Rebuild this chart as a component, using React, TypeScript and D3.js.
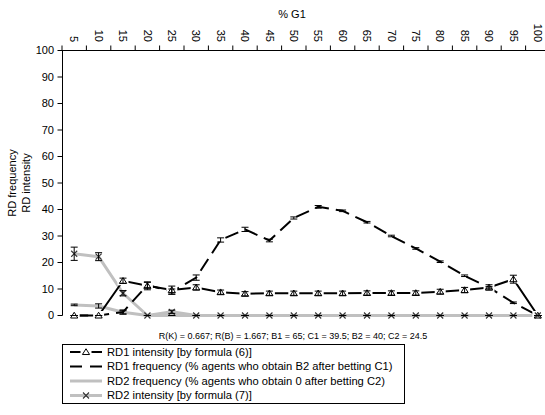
import React from "react";
import * as d3 from "d3";

const categories = [5, 10, 15, 20, 25, 30, 35, 40, 45, 50, 55, 60, 65, 70, 75, 80, 85, 90, 95, 100];
const yTicks = [0, 10, 20, 30, 40, 50, 60, 70, 80, 90, 100];

const rd1Intensity = [0, 0, 13.1, 11.2, 9.6, 10.6, 8.8, 8.2, 8.4, 8.4, 8.4, 8.4, 8.5, 8.5, 8.5, 9.0, 9.6, 10.6, 13.7, 0];
const rd1IntensityErr = [0, 0, 1.0, 1.5, 1.5, 1.0, 0.8, 0.8, 0.8, 0.8, 0.8, 0.8, 0.8, 0.8, 0.8, 0.9, 1.0, 1.0, 1.5, 0];
const rd1Freq = [0, 0, 1.3, 11.5, 9.0, 14.3, 28.5, 32.5, 28.3, 36.8, 41.0, 39.5, 35.2, 30.0, 25.3, 20.3, 15.0, 10.6, 4.8, 0];
const rd1FreqErr = [0, 0, 0.8, 1.0, 1.0, 1.0, 0.8, 0.8, 0.5, 0.4, 0.5, 0.3, 0.3, 0.3, 0.3, 0.3, 0.3, 0.3, 0.3, 0];
const rd2Freq = [4.0, 3.6, 1.2, 0, 0, 0, 0, 0, 0, 0, 0, 0, 0, 0, 0, 0, 0, 0, 0, 0];
const rd2FreqErr = [0.3, 0.8, 0.6, 0, 0, 0, 0, 0, 0, 0, 0, 0, 0, 0, 0, 0, 0, 0, 0, 0];
const rd2Intensity = [23.3, 22.2, 8.4, 0, 1.4, 0, 0, 0, 0, 0, 0, 0, 0, 0, 0, 0, 0, 0, 0, 0];
const rd2IntensityErr = [2.5, 1.5, 1.0, 0, 0.6, 0, 0, 0, 0, 0, 0, 0, 0, 0, 0, 0, 0, 0, 0, 0];

const legendLabels = [
  "RD1 intensity [by formula (6)]",
  "RD1 frequency (% agents who obtain B2 after betting C1)",
  "RD2 frequency (% agents who obtain 0 after betting C2)",
  "RD2 intensity [by formula (7)]",
];
const subtitle = "R(K) = 0.667; R(B) = 1.667; B1 = 65; C1 = 39.5; B2 = 40; C2 = 24.5";
const xTitle = "% G1";
const yTitle1 = "RD frequency";
const yTitle2 = "RD intensity";

const FONT = "'Liberation Sans', Arial, sans-serif";
const GRAY = "#c0c0c0";

export default function App() {
  const W = 545, H = 415;
  const x = d3.scaleBand<number>().domain(categories).range([62, 550]).paddingInner(0).paddingOuter(0);
  const y = d3.scaleLinear().domain([0, 100]).range([315.5, 50.5]);
  const cx = (c: number) => (x(c) as number) + x.bandwidth() / 2;
  const line = (vals: number[]) =>
    d3.line<number>().x((_, i) => cx(categories[i])).y((v) => y(v))(vals) as string;

  const tri = (px: number, py: number, s: number) =>
    `M${px},${py - s * 0.9}L${px + s},${py + s * 0.7}L${px - s},${py + s * 0.7}Z`;

  const errBars = (vals: number[], errs: number[], key: string) =>
    vals.map((v, i) => {
      const e = errs[i];
      const px = cx(categories[i]);
      const y1 = y(v + e), y2 = y(Math.max(0, v - e));
      return (
        <g key={key + i} stroke="#000" strokeWidth={1}>
          {e ? <line x1={px} x2={px} y1={y1} y2={y2} /> : null}
          <line x1={px - 3.5} x2={px + 3.5} y1={y1} y2={y1} />
          <line x1={px - 3.5} x2={px + 3.5} y1={y2} y2={y2} />
        </g>
      );
    });

  const boundaries = d3.range(categories.length + 1).map((k) => 62 + k * x.bandwidth());

  const legY = [352, 366.5, 381, 395.5];

  return (
    <svg width={W} height={H} style={{ position: "absolute", left: 0, top: 0 }} fontFamily={FONT}>
      <rect width={W} height={H} fill="#fff" />
      {/* x title */}
      <text x={292} y={18} fontSize={11} textAnchor="middle">{xTitle}</text>
      {/* top axis */}
      <line x1={62} x2={550} y1={50.5} y2={50.5} stroke="#000" />
      {boundaries.map((b, k) => (
        <line key={"bt" + k} x1={b} x2={b} y1={50.5} y2={45.5} stroke="#000" />
      ))}
      {categories.map((c) => (
        <text key={"xl" + c} transform={`translate(${cx(c)},42) rotate(90)`} fontSize={11} textAnchor="end" dy="0.35em">
          {c}
        </text>
      ))}
      {/* left axis */}
      <line x1={62.5} x2={62.5} y1={50.5} y2={315.5} stroke="#000" />
      {yTicks.map((t) => (
        <g key={"yt" + t}>
          <line x1={57.5} x2={62.5} y1={y(t)} y2={y(t)} stroke="#000" />
          <text x={54} y={y(t)} dy="0.35em" fontSize={11} textAnchor="end">{t}</text>
        </g>
      ))}
      <text transform="translate(15.5,183) rotate(-90)" fontSize={11} textAnchor="middle">{yTitle1}</text>
      <text transform="translate(29.5,183) rotate(-90)" fontSize={11} textAnchor="middle">{yTitle2}</text>

      {/* series lines */}
      <path d={line(rd2Freq)} fill="none" stroke={GRAY} strokeWidth={3} strokeLinejoin="round" />
      <path d={line(rd2Intensity)} fill="none" stroke={GRAY} strokeWidth={3} strokeLinejoin="round" />
      <path d={line(rd1Freq)} fill="none" stroke="#000" strokeWidth={2} strokeDasharray="14,7" />
      <path d={line(rd1Intensity)} fill="none" stroke="#000" strokeWidth={2} />

      {/* markers RD1 intensity */}
      {rd1Intensity.map((v, i) => {
        const px = cx(categories[i]), py = y(v);
        return (
          <g key={"m1" + i}>
            <rect x={px - 5.5} y={py - 4.5} width={11} height={9} fill="#fff" />
            <path d={tri(px, py, 3.6)} fill="#fff" stroke="#000" strokeWidth={1} />
          </g>
        );
      })}
      {/* markers RD2 intensity */}
      {rd2Intensity.map((v, i) => {
        const px = cx(categories[i]), py = y(v);
        return (
          <path key={"m2" + i} d={`M${px - 3},${py - 3}L${px + 3},${py + 3}M${px - 3},${py + 3}L${px + 3},${py - 3}`} stroke="#333" strokeWidth={1.1} />
        );
      })}

      {errBars(rd2Freq, rd2FreqErr, "e2f")}
      {errBars(rd2Intensity, rd2IntensityErr, "e2i")}
      {errBars(rd1Freq, rd1FreqErr, "e1f")}
      {errBars(rd1Intensity, rd1IntensityErr, "e1i")}

      {/* subtitle */}
      <text x={293} y={339} fontSize={9} textAnchor="middle">{subtitle}</text>

      {/* legend */}
      <rect x={62.5} y={344.5} width={342} height={59} fill="#fff" stroke="#000" />
      {/* RD1 intensity */}
      <line x1={70} x2={102} y1={legY[0]} y2={legY[0]} stroke="#000" strokeWidth={2} />
      <rect x={80.5} y={legY[0] - 4.5} width={11} height={9} fill="#fff" />
      <path d={tri(86, legY[0], 3.6)} fill="#fff" stroke="#000" />
      {/* RD1 frequency */}
      <line x1={70} x2={102} y1={legY[1]} y2={legY[1]} stroke="#000" strokeWidth={2} strokeDasharray="12,8" />
      {/* RD2 frequency */}
      <line x1={70} x2={102} y1={legY[2]} y2={legY[2]} stroke={GRAY} strokeWidth={3} />
      {/* RD2 intensity */}
      <line x1={70} x2={102} y1={legY[3]} y2={legY[3]} stroke={GRAY} strokeWidth={3} />
      <path d={`M83,${legY[3] - 3}L89,${legY[3] + 3}M83,${legY[3] + 3}L89,${legY[3] - 3}`} stroke="#333" strokeWidth={1.1} />
      {legendLabels.map((l, i) => (
        <text key={"lg" + i} x={107} y={legY[i]} dy="0.35em" fontSize={11.2}>{l}</text>
      ))}
    </svg>
  );
}
